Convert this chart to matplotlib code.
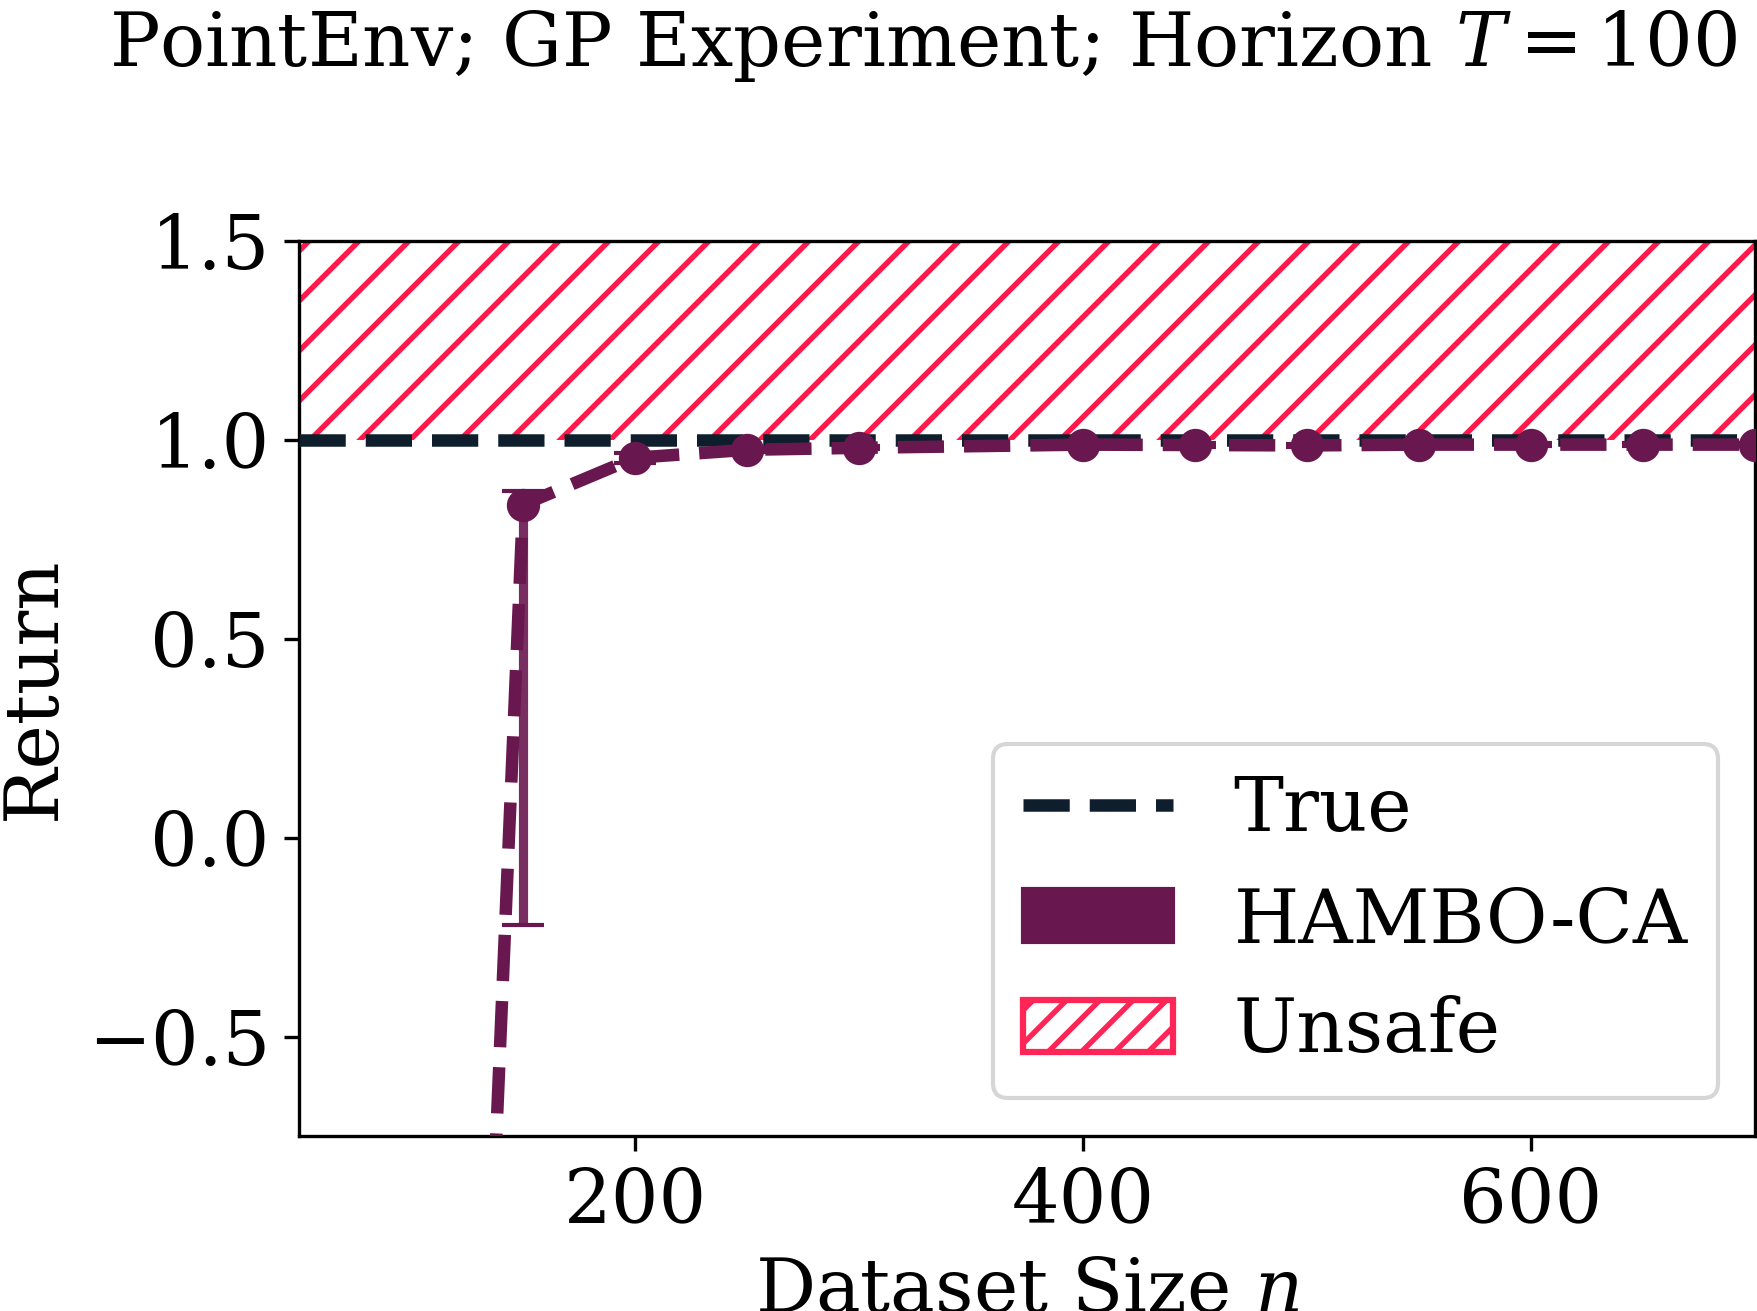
import numpy as np
import matplotlib
matplotlib.use("Agg")
import matplotlib.pyplot as plt
from matplotlib.patches import Patch
from matplotlib.lines import Line2D

# data
dataset_size = [100, 150, 200, 250, 300, 400, 450, 500, 550, 600, 650, 700]
hambo_return = [-5.8, 0.837, 0.955, 0.975, 0.980, 0.988, 0.987, 0.986, 0.988, 0.988, 0.988, 0.988]
err_low = [-6.5, -0.22, 0.941, 0.970, 0.976, 0.984, 0.983, 0.982, 0.984, 0.984, 0.984, 0.984]
err_high = [-5.0, 0.871, 0.966, 0.980, 0.984, 0.992, 0.991, 0.990, 0.992, 0.992, 0.992, 0.992]
true_return = 1.0
unsafe_top = 1.5
xticks = [200, 400, 600]
yticks = [-0.5, 0.0, 0.5, 1.0, 1.5]

purple = "#69174f"
navy = "#0e1e2c"
red = "#ff1a4a"

plt.rcParams["font.family"] = "DejaVu Serif"
plt.rcParams["mathtext.fontset"] = "dejavuserif"
plt.rcParams["hatch.linewidth"] = 1.3

fig = plt.figure(figsize=(1757 / 300, 1311 / 300), dpi=300)
ax = fig.add_axes([0.1702, 0.1335, 0.8287, 0.6827])

x = np.array(dataset_size)
y = np.array(hambo_return)
yerr = [y - np.array(err_low), np.array(err_high) - y]

ax.fill_between([50, 700], true_return, unsafe_top, facecolor="none",
                edgecolor=red, hatch="//", linewidth=0)
ax.axhline(true_return, color=navy, lw=3, ls="--", zorder=3)
ax.errorbar(x, y, yerr=yerr, color=purple, lw=3, ls="--", marker="o", ms=7,
            ecolor=purple, elinewidth=2.2, capsize=5, capthick=1,
            zorder=4)
for bar in ax.containers[0].lines[2]:
    bar.set_alpha(0.9)

ax.set_xlim(50, 700)
ax.set_ylim(-0.75, 1.5)
ax.set_xticks(xticks)
ax.set_yticks(yticks)
ax.tick_params(labelsize=18)
ax.set_xlabel("Dataset Size $n$", fontsize=18)
ax.set_ylabel("Return", fontsize=18)

handles = [
    Line2D([], [], color=navy, lw=3, ls="--"),
    Patch(facecolor=purple, edgecolor=purple),
    Patch(facecolor="white", edgecolor="#ff2557", hatch="///", lw=1.5),
]
ax.legend(handles, ["True", "HAMBO-CA", "Unsafe"], loc="lower right", fontsize=18)

fig.text(0.5255, 1 - 8 / 1311, "PointEnv; GP Experiment; Horizon $T = 100$",
         ha="center", va="top", fontsize=18)

fig.savefig("out.png", dpi=300)
